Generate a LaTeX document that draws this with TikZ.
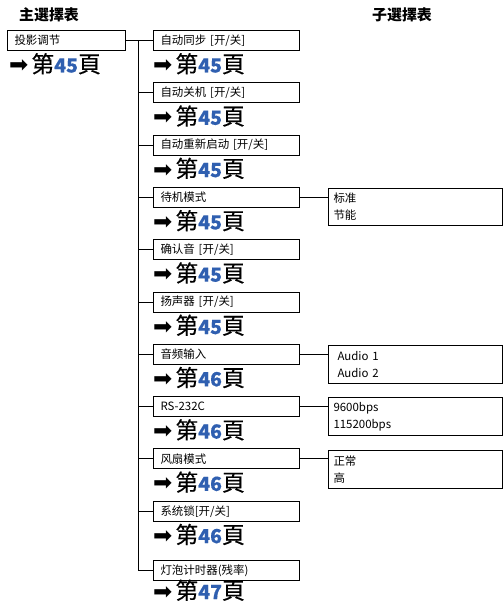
\documentclass[tikz,border=0pt]{standalone}
\usepackage{fontspec}
\setmainfont{Noto Sans CJK SC}
\newfontfamily\symfont{DejaVu Sans}
\newfontfamily\refcjk[FakeBold=0.3]{Noto Sans CJK SC}
\definecolor{refblue}{RGB}{47,95,176}
\newcommand\pgref[1]{{\symfont\fontsize{23}{23}\selectfont ➡}\hspace{3bp}{\refcjk\fontsize{23}{23}\selectfont 第\textcolor{refblue}{\fontsize{19.5}{20}\selectfont\bfseries #1}頁}}
\begin{document}
\begin{tikzpicture}[x=1bp,y=-1bp,
  line/.style={line width=1bp},
  mainbox/.style={draw,line width=1bp,anchor=west,minimum height=20bp,inner xsep=7bp,inner ysep=0pt,align=left,font=\fontsize{11.5}{12}\selectfont},
  childbox/.style={mainbox,text width=132bp},
  subbox/.style={draw,line width=1bp,anchor=north west,text width=164bp,inner xsep=5bp,inner ysep=3bp,minimum height=37bp,align=left,font=\fontsize{11.5}{17}\selectfont},
  ref/.style={anchor=base west,inner sep=0pt},
  head/.style={font=\fontsize{15}{15}\selectfont\bfseries,inner sep=0pt}]
\useasboundingbox (0,0) rectangle (503,603);
% headers
\node[head] (h1) at (49,15) {主選擇表};
\node[head] (h2) at (402,15) {子選擇表};
% main box
\node[mainbox,text width=104bp] (m) at (7,40.5) {投影调节};
\node[ref] (pm) at (9,72.5) {\pgref{45}};
% trunk
\coordinate (t0) at (138,40.5);
\coordinate (t1) at (138,570.5);
% child boxes
\node[childbox] (c1) at (153,40.5) {自动同步 [开/关]};
\node[childbox] (c2) at (153,92.8) {自动关机 [开/关]};
\node[childbox] (c3) at (153,145.1) {自动重新启动 [开/关]};
\node[childbox] (c4) at (153,197.4) {待机模式};
\node[childbox] (c5) at (153,249.7) {确认音 [开/关]};
\node[childbox] (c6) at (153,302.0) {扬声器 [开/关]};
\node[childbox] (c7) at (153,354.3) {音频输入};
\node[childbox] (c8) at (153,406.6) {RS-232C};
\node[childbox] (c9) at (153,458.9) {风扇模式};
\node[childbox] (c10) at (153,511.2) {系统锁[开/关]};
\node[childbox] (c11) at (153,570.5) {灯泡计时器(残率)};
% page refs
\node[ref] (p1) at (153,72.5) {\pgref{45}};
\node[ref] (p2) at (153,124.8) {\pgref{45}};
\node[ref] (p3) at (153,177.1) {\pgref{45}};
\node[ref] (p4) at (153,229.4) {\pgref{45}};
\node[ref] (p5) at (153,281.7) {\pgref{45}};
\node[ref] (p6) at (153,334.0) {\pgref{45}};
\node[ref] (p7) at (153,386.3) {\pgref{46}};
\node[ref] (p8) at (153,438.6) {\pgref{46}};
\node[ref] (p9) at (153,490.9) {\pgref{46}};
\node[ref] (p10) at (153,543.2) {\pgref{46}};
\node[ref] (p11) at (153,599) {\pgref{47}};
% sub boxes
\node[subbox] (s4) at (328,188) {标准\\节能};
\node[subbox,minimum height=38bp] (s7) at (328,345) {\hspace{4bp}Audio 1\\\hspace{4bp}Audio 2};
\node[subbox,minimum height=38bp] (s8) at (328,397) {9600bps\\115200bps};
\node[subbox,minimum height=38bp] (s9) at (328,450) {正常\\高};
% connectors
\draw[line] (m.east) -- (c1.west);
\draw[line] (t0) -- (t1) -- (c11.west);
\foreach \i in {2,...,10} {\draw[line] (c\i.west -| t0) -- (c\i.west);}
\foreach \i in {4,7,8,9} {\draw[line] (c\i.east) -- (c\i.east -| s\i.west);}
\end{tikzpicture}
\end{document}
